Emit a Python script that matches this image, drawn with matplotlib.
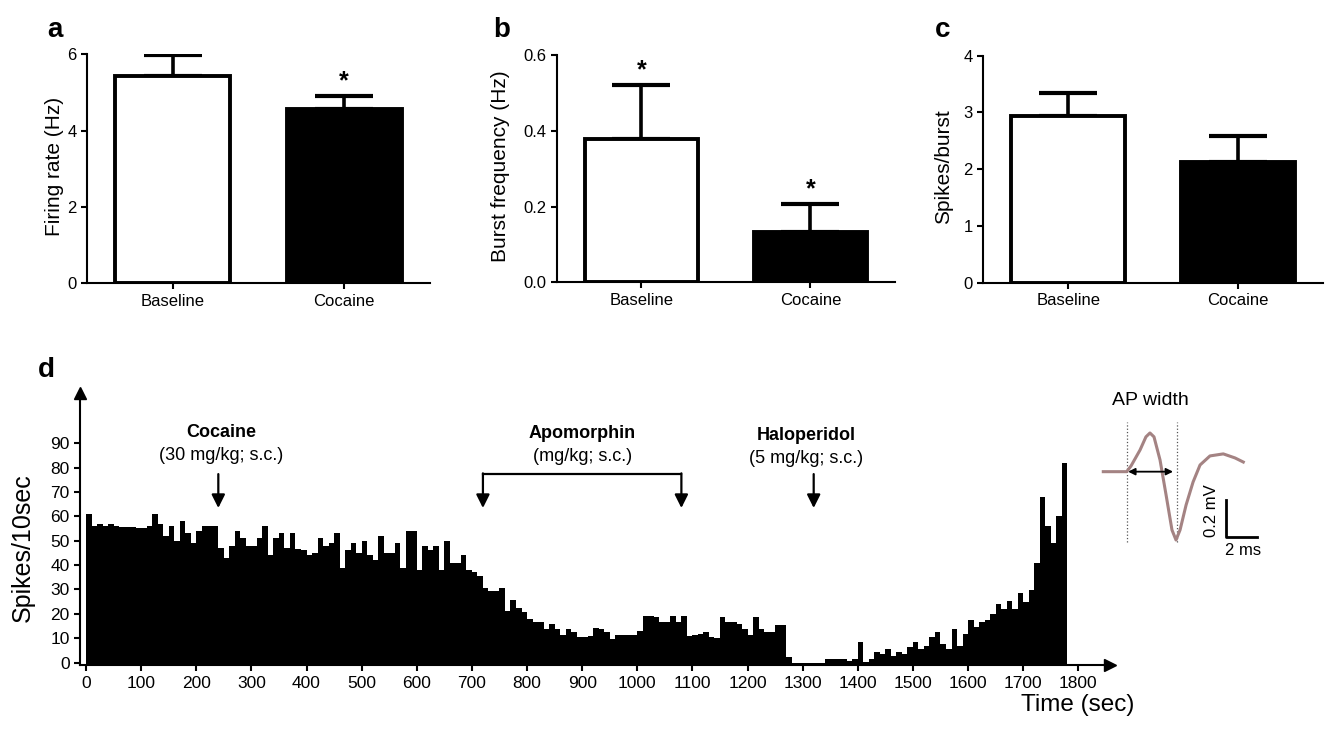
import matplotlib
matplotlib.use("Agg")
import matplotlib.pyplot as plt
import numpy as np

plt.rcParams['font.family'] = ['Liberation Sans', 'DejaVu Sans']

# ---- panels a-c: group means and upper error ----
groups = ['Baseline', 'Cocaine']
firing_rate = [5.43, 4.57]
firing_err = [0.55, 0.35]
burst_freq = [0.377, 0.133]
burst_err = [0.145, 0.075]
spikes_burst = [2.93, 2.13]
spikes_err = [0.41, 0.46]
stars_a = [False, True]
stars_b = [True, True]
stars_c = [False, False]

# ---- panel d: spikes per 10 s bin ----
bin_sec = 10
spike_counts = [
    61, 56, 57, 56, 57, 56, 55.5, 55.5, 55.5, 55,
    55, 56, 61, 57, 52, 56, 50, 58, 53, 49,
    54, 56, 56, 56, 47, 43, 48, 54, 51, 48,
    48, 51, 56, 44, 51, 53, 47, 53, 46.5, 46,
    44, 45, 51, 48, 49, 53, 39, 46, 49, 45,
    50, 44, 42, 52, 45, 45, 49, 39, 54, 54,
    38, 48, 46, 48, 38, 50, 41, 41, 44, 38,
    37, 35.5, 30.5, 29.5, 29.5, 30.5, 21, 25.7, 22.5, 20.7,
    17.8, 16.6, 16.6, 13.7, 15.7, 13.7, 11.4, 13.7, 12.5, 10.7,
    10.7, 11, 14.4, 13.8, 12.5, 9.7, 11.4, 11.4, 11.4, 11.4,
    12.8, 19, 19, 18.8, 16.6, 16.6, 19, 16.6, 19, 11,
    11.4, 11.6, 12.7, 10.7, 10, 18.9, 16.6, 16.6, 15.7, 13.7,
    11.4, 18.6, 13.7, 12.7, 12.7, 15.4, 15.4, 2.5, 0, 0,
    0, 0, 0, 0, 1.5, 1.5, 1.5, 1.5, 0.5, 1.5,
    8.6, 0.4, 1.3, 4.5, 3.4, 5.5, 2.7, 4.5, 3.5, 6.6,
    8.6, 5.6, 6.9, 10.4, 12.7, 7.6, 5.6, 13.7, 6.9, 11.6,
    17.5, 14.5, 16.5, 17.5, 19.8, 24, 22, 25.4, 22, 28.7,
    25, 29.7, 41, 68, 56, 49, 60, 82,
]
time_ticks = list(range(0, 1900, 100))
count_ticks = list(range(0, 100, 10))

# injection times (s)
cocaine_t = 240
apomorphin_t = [720, 1080]
haloperidol_t = 1320

# ---- AP waveform inset (ms, mV) ----
ap_time_ms = [0, 1.51, 1.79, 2.37, 2.75, 3.01, 3.27, 3.66, 4.05, 4.43, 4.69, 4.95,
              5.34, 5.79, 6.24, 6.88, 7.74, 8.5, 9.03]
ap_mv = [0, 0, 0.031, 0.117, 0.188, 0.209, 0.188, 0.063, -0.126, -0.315, -0.369, -0.315,
         -0.18, -0.056, 0.036, 0.085, 0.096, 0.074, 0.052]

W, H = 1326, 735
fig = plt.figure(figsize=(W / 100, H / 100), dpi=100)


def px_axes(left, top, right, bottom):
    return fig.add_axes([left / W, 1 - bottom / H, (right - left) / W, (bottom - top) / H])


def bar_panel(box, vals, errs, stars, yticks, yfmt, ylabel, ylab_xy, letter, letter_xy):
    ax = px_axes(*box)
    x = np.arange(len(groups))
    ax.errorbar(x, vals, yerr=[np.zeros(len(vals)), errs], fmt='none', ecolor='black',
                elinewidth=2.6, capsize=21, capthick=3, zorder=1)
    ax.bar(x, vals, width=0.67, color=['white', 'black'], edgecolor='black',
           linewidth=2.8, zorder=2)
    for i, s in enumerate(stars):
        if s:
            ax.annotate('*', (i, vals[i] + errs[i]), xytext=(0, 5), textcoords='offset points',
                        ha='center', va='baseline', fontsize=18, fontweight='bold',
                        annotation_clip=False)
    ax.set_xlim(-0.5, 1.5)
    ax.set_ylim(0, yticks[-1])
    ax.set_xticks(x, groups)
    ax.set_yticks(yticks, [yfmt.format(v) for v in yticks])
    for side in ['top', 'right']:
        ax.spines[side].set_visible(False)
    for side in ['left', 'bottom']:
        ax.spines[side].set_linewidth(1.5)
    ax.tick_params(direction='out', length=4, width=1.5, labelsize=12)
    fig.text(ylab_xy[0] / W, 1 - ylab_xy[1] / H, ylabel, rotation=90,
             ha='center', va='center', fontsize=15)
    fig.text(letter_xy[0] / W, 1 - letter_xy[1] / H, letter, ha='left', va='baseline',
             fontsize=20, fontweight='bold')
    return ax


bar_panel((87, 54.3, 430, 283.3), firing_rate, firing_err, stars_a, [0, 2, 4, 6], '{:g}',
          'Firing rate (Hz)', (54, 166), 'a', (47, 37))
bar_panel((556.7, 55, 895, 282.3), burst_freq, burst_err, stars_b, [0, 0.2, 0.4, 0.6], '{:.1f}',
          'Burst frequency (Hz)', (500, 166.5), 'b', (493, 37))
bar_panel((983.3, 55.7, 1323, 282.7), spikes_burst, spikes_err, stars_c, [0, 1, 2, 3, 4], '{:g}',
          'Spikes/burst', (943.5, 166.7), 'c', (935, 37))

# ---- panel d ----
ax = px_axes(80, 393.1, 1110, 665.1)
y_bottom = -1
edges = np.arange(len(spike_counts) + 1) * bin_sec
ax.stairs(spike_counts, edges, fill=True, color='black', baseline=y_bottom)
ax.set_xlim(-10.9, 1857.5)
ax.set_ylim(y_bottom, 110.5)
ax.set_xticks(time_ticks)
ax.set_yticks(count_ticks)
for side in ['top', 'right']:
    ax.spines[side].set_visible(False)
for side in ['left', 'bottom']:
    ax.spines[side].set_linewidth(1.5)
ax.tick_params(direction='out', length=4, width=1.5, labelsize=12.5)
ax.plot(1, 0, '>k', transform=ax.transAxes, clip_on=False, markersize=9)
ax.plot(0, 1, '^k', transform=ax.transAxes, clip_on=False, markersize=9)

arrow_kw = dict(arrowstyle='-|>', color='black', lw=1.6, mutation_scale=20, shrinkA=0, shrinkB=0)
arrow_top, arrow_tip = 77.3, 63.4
ax.annotate('', xy=(cocaine_t, arrow_tip), xytext=(cocaine_t, arrow_top), arrowprops=arrow_kw)
ax.annotate('', xy=(haloperidol_t, arrow_tip), xytext=(haloperidol_t, arrow_top), arrowprops=arrow_kw)
for t in apomorphin_t:
    ax.annotate('', xy=(t, arrow_tip), xytext=(t, arrow_top + 0.3), arrowprops=arrow_kw)
ax.plot(apomorphin_t, [arrow_top, arrow_top], color='black', lw=1.6)

ax.text(245, 94.5, 'Cocaine', ha='center', va='center', fontsize=13, fontweight='bold')
ax.text(245, 85.1, '(30 mg/kg; s.c.)', ha='center', va='center', fontsize=13)
ax.text(np.mean(apomorphin_t), 94.1, 'Apomorphin', ha='center', va='center', fontsize=13,
        fontweight='bold')
ax.text(np.mean(apomorphin_t), 84.7, '(mg/kg; s.c.)', ha='center', va='center', fontsize=13)
ax.text(1307, 93.3, 'Haloperidol', ha='center', va='center', fontsize=13, fontweight='bold')
ax.text(1307, 83.5, '(5 mg/kg; s.c.)', ha='center', va='center', fontsize=13)

fig.text(23 / W, 1 - 547.5 / H, 'Spikes/10sec', rotation=90, ha='center', va='center', fontsize=18)
fig.text(1078 / W, 1 - 705 / H, 'Time (sec)', ha='center', va='center', fontsize=17.5)
fig.text(38 / W, 1 - 377 / H, 'd', ha='left', va='baseline', fontsize=20, fontweight='bold')

# ---- AP width inset ----
ap = px_axes(1095, 415, 1265, 560)
ap.set_xlim(-0.535, 10.43)
ap.set_ylim(-0.477, 0.306)
ap.axis('off')
ap.vlines([1.51, 4.75], -0.38, 0.269, colors='#555555', linestyles=':', lw=0.9)
ap.plot(ap_time_ms, ap_mv, color='#a48383', lw=2.2, solid_joinstyle='round')
ap.annotate('', xy=(4.5, 0), xytext=(1.6, 0),
            arrowprops=dict(arrowstyle='<|-|>', color='black', lw=1.3, mutation_scale=10,
                            shrinkA=0, shrinkB=0))
ap.plot([7.92, 7.92, 9.92], [-0.153, -0.353, -0.353], color='black', lw=2)
ap.text(6.98, -0.21, '0.2 mV', rotation=90, ha='center', va='center', fontsize=12)
ap.text(9.0, -0.426, '2 ms', ha='center', va='center', fontsize=12)
fig.text(1150 / W, 1 - 400 / H, 'AP width', ha='center', va='center', fontsize=14)

fig.savefig('out.png', dpi=100)
